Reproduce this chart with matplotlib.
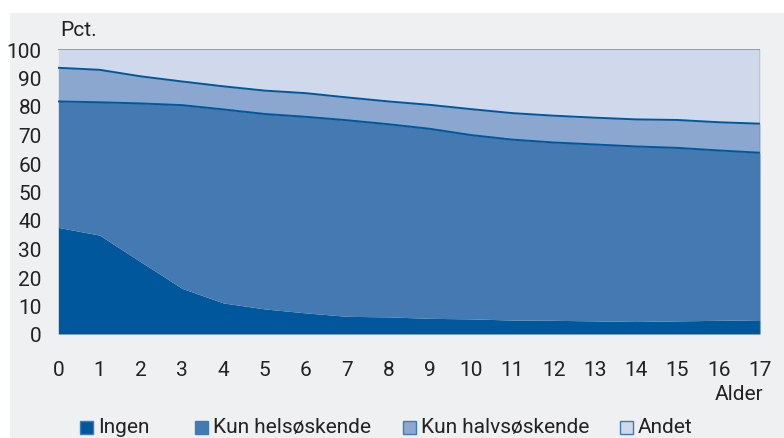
import matplotlib
matplotlib.use("Agg")
import matplotlib.pyplot as plt
from matplotlib.patches import Rectangle
import numpy as np

plt.rcParams['font.family'] = ['Roboto', 'DejaVu Sans']

# Alder (years)
alder = list(range(18))

# Share of children, percent
ingen = [37.4, 34.7, 25.3, 16.0, 10.9, 8.8, 7.4, 6.2, 6.0, 5.5,
         5.3, 4.9, 4.8, 4.6, 4.4, 4.6, 4.8, 5.0]
# cumulative top of "Kun helsøskende"
top_hel = [81.6, 81.3, 80.9, 80.3, 78.8, 77.2, 76.2, 75.0, 73.6, 72.0,
           69.8, 68.2, 67.2, 66.5, 65.8, 65.3, 64.4, 63.6]
# cumulative top of "Kun halvsøskende"
top_halv = [93.4, 92.7, 90.4, 88.6, 86.9, 85.4, 84.5, 83.0, 81.6, 80.4,
            78.9, 77.5, 76.6, 75.9, 75.3, 75.1, 74.3, 73.8]

labels = ["Ingen", "Kun helsøskende", "Kun halvsøskende", "Andet"]
colors = ["#00579b", "#4479b1", "#8ca7cf", "#d0d9ec"]
line_col = "#00579b"
bg = "#eff0f2"
txt = "#222222"

x = np.array(alder)
lay0 = np.zeros(len(x))
lay1 = np.array(ingen)
lay2 = np.array(top_hel)
lay3 = np.array(top_halv)
lay4 = np.full(len(x), 100.0)

fig = plt.figure(figsize=(7.84, 4.39), dpi=100, facecolor="white")
W, H = 784, 439
fig.patches.append(Rectangle((10 / W, 0), 1, 1 - 14 / H, transform=fig.transFigure,
                             facecolor=bg, edgecolor="none", zorder=-5))

ax = fig.add_axes([58.3 / W, (H - 335) / H, 701.7 / W, 285 / H])
ax.set_facecolor(bg)

bounds = [lay0, lay1, lay2, lay3, lay4]
for i in range(4):
    ax.fill_between(x, bounds[i], bounds[i + 1], color=colors[i], linewidth=0, zorder=1)

ax.plot(x, lay2, color=line_col, lw=1.4, zorder=3)
ax.plot(x, lay3, color=line_col, lw=1.4, zorder=3)
ax.plot(x, lay4, color="#6b98c4", lw=1.2, zorder=3)
ax.plot([17, 17], [0, 100], color="#3f7ab6", lw=1.0, zorder=3)

ax.set_xlim(0, 17)
ax.set_ylim(0, 100)
for s in ax.spines.values():
    s.set_visible(False)

ax.set_yticks(range(0, 101, 10))
ax.set_xticks(alder)
ax.tick_params(axis="both", length=0, labelsize=15, colors=txt)
ax.tick_params(axis="y", pad=12)
ax.tick_params(axis="x", pad=19)

fig.text(60 / W, 1 - 31 / H, "Pct.", fontsize=15, color=txt, va="center", ha="left")
fig.text(763 / W, 1 - 395 / H, "Alder", fontsize=15, color=txt, va="center", ha="right")

# legend entries placed along the bottom
leg_x = [80, 195, 403, 620]
for i in range(4):
    fig.patches.append(Rectangle((leg_x[i] / W, 1 - 435 / H), 13 / W, 13 / H,
                                 transform=fig.transFigure, facecolor=colors[i],
                                 edgecolor="#3f7ab6", linewidth=1.0))
    fig.text((leg_x[i] + 18) / W, 1 - 428 / H, labels[i], fontsize=15, color=txt,
             va="center", ha="left")

fig.savefig("out.png", dpi=100, facecolor=fig.get_facecolor())
